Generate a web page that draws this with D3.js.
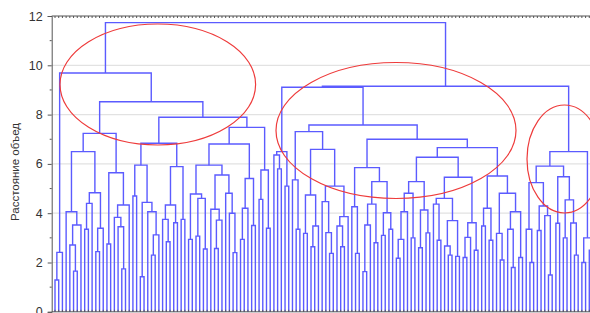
<!DOCTYPE html>
<html><head><meta charset="utf-8">
<script src="https://cdn.jsdelivr.net/npm/d3@7"></script>
<style>body{margin:0;background:#fff;overflow:hidden}svg{display:block}</style>
</head><body><svg id="c" width="590" height="313"></svg>
<script>
// ---- data: node = [joinDistance, left, right], leaf = 0 ----
const yTicks = [0, 2, 4, 6, 8, 10, 12];
const yLabel = "Расстояние объед";
const A0 = [2.41, [1.29, 0, 0], 0];
const A4 = [6.5, [4.06, 0, [3.52, [2.71, 0, [1.65, 0, 0]], 0]], [4.83, [4.40, [3.35, 0, 0], 0], [3.39, [2.44, 0, 0], 0]]];
const A5 = [5.64, [2.75, 0, 0], [4.33, [3.83, 0, [3.45, 0, [1.74, 0, 0]]], 0]];
const A10 = [5.95, [4.70, 0, 0], [4.44, [1.42, 0, 0], [4.06, 0, [3.12, [2.30, 0, 0], 0]]]];
const A11 = [5.89, [4.33, [3.75, 0, [2.84, 0, 0]], [3.61, 0, 0]], [3.75, 0, 0]];
const A14 = [5.95, [4.78, [2.94, 0, 0], [4.60, [3.07, 0, 0], [2.55, 0, 0]]], [5.55, [4.16, 0, [3.72, [2.57, 0, 0], 0]], [4.81, 0, [4.0, 0, [2.4, 0, 0]]]]];
const A15 = [5.41, [4.2, [2.94, 0, 0], 0], [3.5, 0, 0]];
const A13 = [5.75, [4.56, 0, 0], [3.39, 0, 0]];
const E = [6.5, [6.36, 0, [5.8, 0, 0]], [5.1, 0, 0]];
const H1 = [5.35, 0, [3.35, 0, 0]];
const H2a = [4.74, [3.18, 0, 0], [3.48, [2.64, 0, 0], 0]];
const H2b = [5.1, [4.47, 0, [3.21, 0, [2.37, 0, 0]]], [3.86, [3.48, 0, [2.64, 0, 0]], 0]];
const G1 = [5.85, [4.26, 0, [2.37, 0, 0]], [5.28, [4.37, [3.52, [1.63, 0, 0], 0], [2.8, 0, 0]], [4.02, [3.1, 0, 0], [3.35, 0, 0]]]];
const G2LL = [5.28, [4.81, [4.06, [2.94, [2.17, 0, 0], 0], 0], [3.0, 0, 0]], [4.13, [2.6, 0, 0], [3.2, 0, 0]]];
const G2LRa = [4.6, [4.37, 0, [2.9, 0, 0]], [3.7, [2.67, 0, [2.3, 0, 0]], [2.25, 0, 0]]];
const G2LRb = [3.61, [3.02, [2.2, 0, 0], 0], [2.5, 0, 0]];
const G2R = [5.51, [4.2, [3.48, 0, 0], [2.9, 0, 0]], [4.81, [3.18, 0, [2.1, 0, 0]], [4.06, [3.35, 0, [1.8, 0, 0]], [2.2, 0, 0]]]];
const D1 = [5.91, [5.24, [3.35, 0, [2.0, 0, 0]], [4.29, [3.3, 0, 0], [3.9, 0, [1.49, 0, 0]]]], [5.48, [3.59, 0, 0], [4.54, [3.0, 0, 0], [3.6, 0, [2.3, 0, 0]]]]];
const D2 = [3.0, [2.0, 0, 0], [2.5, 0, 0]];
const H = [7.31, H1, [6.59, H2a, H2b]];
const G = [7.0, G1, [6.66, [6.27, G2LL, [5.46, G2LRa, G2LRb]], G2R]];
const D = [6.5, D1, D2];
const treeRoot = [11.73,
  [9.69, A0, [8.52, [7.24, A4, A5], [7.89, [6.84, A10, A11], [7.48, [6.81, A14, A15], A13]]]],
  [9.15, [9.11, E, [7.58, H, G]], D]];

// ---- layout ----
const W = 590, Hh = 313;
const plot = {left: 51.7, top: 16, bottom: 311.8, right: 600};
const svg = d3.select("#c");

// count leaves
let nLeaves = 0;
(function cnt(n){ if (n === 0) { nLeaves++; return; } cnt(n[1]); cnt(n[2]); })(treeRoot);

const x = d3.scaleLinear().domain([0, nLeaves - 1]).range([55, 593]);
const y = d3.scaleLinear().domain([0, 12]).range([plot.bottom, plot.top]);

// grid
svg.append("g").selectAll("line").data(yTicks.filter(t => t > 0 && t < 12)).join("line")
  .attr("x1", plot.left).attr("x2", W).attr("y1", d => y(d)).attr("y2", d => y(d))
  .attr("stroke", "#e2e2e2").attr("stroke-width", 1.2);

// dendrogram
let leafIdx = 0;
const segs = [];
function place(n) {
  if (n === 0) { return {x: x(leafIdx++), h: 0}; }
  const l = place(n[1]), r = place(n[2]);
  segs.push({l, r, h: n[0]});
  return {x: (l.x + r.x) / 2, h: n[0]};
}
place(treeRoot);

svg.append("g").selectAll("path").data(segs).join("path")
  .attr("d", s => `M${s.l.x},${y(s.l.h)}V${y(s.h)}H${s.r.x}V${y(s.r.h)}`)
  .attr("fill", "none").attr("stroke", "#5b5bff").attr("stroke-width", 1.4);

// frame: top & bottom with leaf ticks
const leafXs = d3.range(nLeaves).map(i => x(i));
svg.append("line").attr("x1", plot.left).attr("x2", W).attr("y1", plot.top).attr("y2", plot.top)
  .attr("stroke", "#555").attr("stroke-width", 1);
svg.append("g").selectAll("line").data(leafXs).join("line")
  .attr("x1", d => d).attr("x2", d => d).attr("y1", plot.top).attr("y2", plot.top + 2)
  .attr("stroke", "#555").attr("stroke-width", 1);
svg.append("line").attr("x1", plot.left).attr("x2", W).attr("y1", plot.bottom).attr("y2", plot.bottom)
  .attr("stroke", "#555").attr("stroke-width", 1);
svg.append("g").selectAll("line").data(leafXs).join("line")
  .attr("x1", d => d).attr("x2", d => d).attr("y1", plot.bottom).attr("y2", plot.bottom - 2)
  .attr("stroke", "#555").attr("stroke-width", 1);

// y axis
const ax = svg.append("g").attr("transform", `translate(${plot.left},0)`)
  .call(d3.axisLeft(y).tickValues(yTicks).tickSize(4).tickPadding(5).tickFormat(d3.format("d")));
ax.select(".domain").attr("stroke", "#555");
ax.selectAll(".tick line").attr("stroke", "#555");
ax.selectAll("text").attr("font-family", "Liberation Sans, Arial, sans-serif").attr("font-size", 12.5).attr("fill", "#333");
svg.append("g").selectAll("line").data(d3.range(1, 12, 2)).join("line")
  .attr("x1", plot.left - 2).attr("x2", plot.left).attr("y1", d => y(d)).attr("y2", d => y(d))
  .attr("stroke", "#555");

svg.append("text").attr("transform", "translate(19,172) rotate(-90)")
  .attr("text-anchor", "middle").attr("font-family", "Liberation Sans, Arial, sans-serif")
  .attr("font-size", 11.5).attr("fill", "#333").text(yLabel);

// red annotation ellipses
const ellipses = [
  {cx: 157.8, cy: 84.5, rx: 97.8, ry: 60.5},
  {cx: 396, cy: 130.5, rx: 120, ry: 68},
  {cx: 564.5, cy: 159, rx: 37.5, ry: 54}
];
svg.append("g").selectAll("ellipse").data(ellipses).join("ellipse")
  .attr("cx", d => d.cx).attr("cy", d => d.cy).attr("rx", d => d.rx).attr("ry", d => d.ry)
  .attr("fill", "none").attr("stroke", "#ee3b3b").attr("stroke-width", 1.2);
</script></body></html>
